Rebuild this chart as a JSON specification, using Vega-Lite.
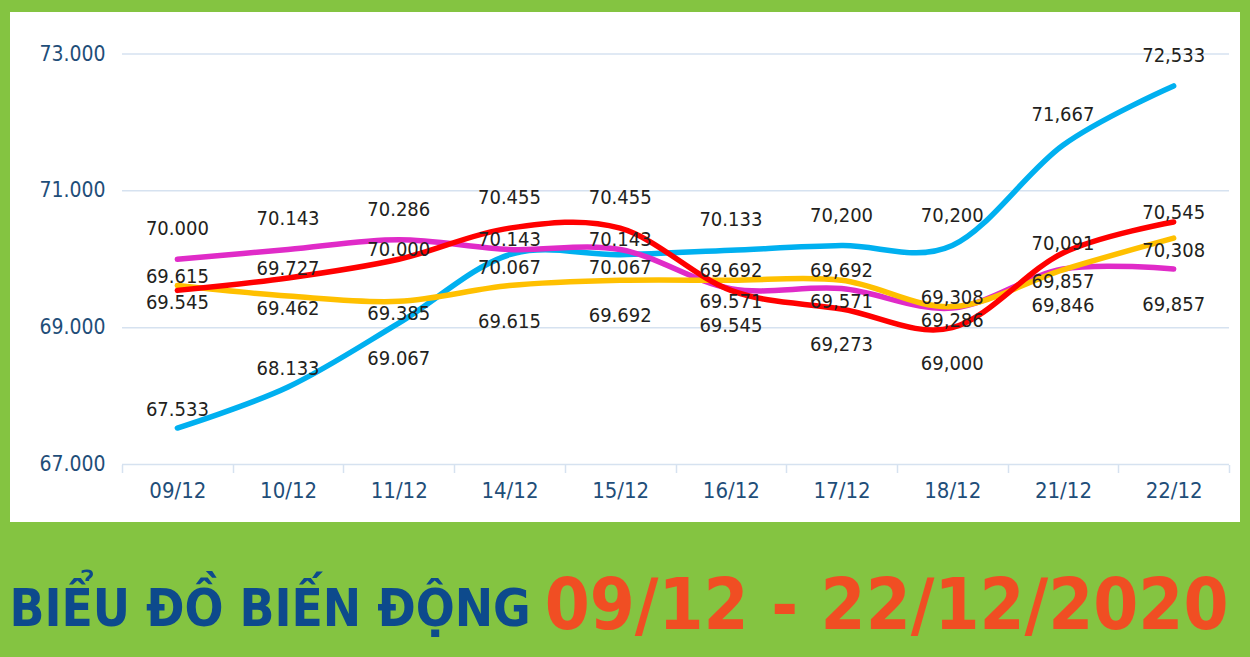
{
  "$schema": "https://vega.github.io/schema/vega-lite/v6.json",
  "width": 1230,
  "height": 510,
  "autosize": {"type": "none"},
  "padding": {"left": 10, "top": 12, "right": 10, "bottom": 135},
  "background": "#84C441",
  "config": {
    "view": {"fill": "white", "stroke": null},
    "font": "DejaVu Sans Condensed, sans-serif"
  },
  "data": {
    "values": [
      {"date": "09/12", "series": "Xanh", "value": 67533},
      {"date": "10/12", "series": "Xanh", "value": 68133},
      {"date": "11/12", "series": "Xanh", "value": 69067},
      {"date": "14/12", "series": "Xanh", "value": 70067},
      {"date": "15/12", "series": "Xanh", "value": 70067},
      {"date": "16/12", "series": "Xanh", "value": 70133},
      {"date": "17/12", "series": "Xanh", "value": 70200},
      {"date": "18/12", "series": "Xanh", "value": 70200},
      {"date": "21/12", "series": "Xanh", "value": 71667},
      {"date": "22/12", "series": "Xanh", "value": 72533},
      {"date": "09/12", "series": "Hồng", "value": 70000},
      {"date": "10/12", "series": "Hồng", "value": 70143},
      {"date": "11/12", "series": "Hồng", "value": 70286},
      {"date": "14/12", "series": "Hồng", "value": 70143},
      {"date": "15/12", "series": "Hồng", "value": 70143},
      {"date": "16/12", "series": "Hồng", "value": 69571},
      {"date": "17/12", "series": "Hồng", "value": 69571},
      {"date": "18/12", "series": "Hồng", "value": 69286},
      {"date": "21/12", "series": "Hồng", "value": 69857},
      {"date": "22/12", "series": "Hồng", "value": 69857},
      {"date": "09/12", "series": "Vàng", "value": 69615},
      {"date": "10/12", "series": "Vàng", "value": 69462},
      {"date": "11/12", "series": "Vàng", "value": 69385},
      {"date": "14/12", "series": "Vàng", "value": 69615},
      {"date": "15/12", "series": "Vàng", "value": 69692},
      {"date": "16/12", "series": "Vàng", "value": 69692},
      {"date": "17/12", "series": "Vàng", "value": 69692},
      {"date": "18/12", "series": "Vàng", "value": 69308},
      {"date": "21/12", "series": "Vàng", "value": 69846},
      {"date": "22/12", "series": "Vàng", "value": 70308},
      {"date": "09/12", "series": "Đỏ", "value": 69545},
      {"date": "10/12", "series": "Đỏ", "value": 69727},
      {"date": "11/12", "series": "Đỏ", "value": 70000},
      {"date": "14/12", "series": "Đỏ", "value": 70455},
      {"date": "15/12", "series": "Đỏ", "value": 70455},
      {"date": "16/12", "series": "Đỏ", "value": 69545},
      {"date": "17/12", "series": "Đỏ", "value": 69273},
      {"date": "18/12", "series": "Đỏ", "value": 69000},
      {"date": "21/12", "series": "Đỏ", "value": 70091},
      {"date": "22/12", "series": "Đỏ", "value": 70545}
    ]
  },
  "layer": [
    {
      "data": {"values": [{"g": 67000}, {"g": 69000}, {"g": 71000}, {"g": 73000}]},
      "mark": {"type": "rule", "color": "#D6E2F0", "strokeWidth": 1.5},
      "encoding": {
        "x": {"datum": "09/12", "type": "ordinal", "bandPosition": 0},
        "x2": {"datum": "22/12", "bandPosition": 1},
        "y": {"field": "g", "type": "quantitative"}
      }
    },
    {
      "mark": {"type": "line", "interpolate": "cardinal", "strokeWidth": 5.5, "strokeCap": "round", "strokeJoin": "round"},
      "encoding": {
        "x": {
          "field": "date",
          "type": "ordinal",
          "sort": ["09/12", "10/12", "11/12", "14/12", "15/12", "16/12", "17/12", "18/12", "21/12", "22/12"],
          "scale": {"type": "band", "paddingInner": 0, "paddingOuter": 0.5556, "align": 0.9106},
          "axis": {
            "orient": "bottom",
            "offset": -57.5,
            "domain": false,
            "grid": false,
            "tickBand": "extent",
            "tickExtra": true,
            "tickColor": "#D6E2F0",
            "tickSize": 8,
            "tickWidth": 1.5,
            "labelAngle": 0,
            "labelAlign": "center",
            "labelFontSize": 22,
            "labelColor": "#1F4E79",
            "labelPadding": 8,
            "labelBaseline": "top",
            "title": "09/12 - 22/12/2020",
            "titleFontSize": 72,
            "titleFontWeight": "bold",
            "titleColor": "#F04E23",
            "titleX": 1218,
            "titleY": 164,
            "titleAlign": "right",
            "titleBaseline": "alphabetic"
          }
        },
        "y": {
          "field": "value",
          "type": "quantitative",
          "scale": {"domain": [66159.6, 73613.9], "nice": false, "zero": false},
          "axis": {
            "orient": "left",
            "offset": -112,
            "domain": false,
            "ticks": false,
            "grid": false,
            "values": [67000, 69000, 71000, 73000],
            "labelExpr": "replace(format(datum.value, ','), ',', '.')",
            "labelFontSize": 21,
            "labelColor": "#1F4E79",
            "labelPadding": 17,
            "title": "BIỂU ĐỒ BIẾN ĐỘNG",
            "titleAngle": 0,
            "titleX": -113,
            "titleY": 613,
            "titleAlign": "left",
            "titleBaseline": "alphabetic",
            "titleFontSize": 51,
            "titleFontWeight": "bold",
            "titleColor": "#0D4A8C"
          }
        },
        "color": {
          "field": "series",
          "type": "nominal",
          "scale": {"domain": ["Xanh", "Hồng", "Vàng", "Đỏ"], "range": ["#00B0F0", "#E02BC8", "#FFC000", "#FF0000"]},
          "legend": null
        }
      }
    },
    {
      "transform": [
        {"window": [{"op": "row_number", "as": "rk"}, {"op": "lag", "field": "value", "as": "prev"}], "groupby": ["date"], "sort": [{"field": "value", "order": "descending"}]},
        {"calculate": "datum.date < '17/12' ? replace(format(datum.value, ','), ',', '.') : format(datum.value, ',')", "as": "label"}
      ],
      "encoding": {
        "x": {"field": "date", "type": "ordinal"},
        "y": {"field": "value", "type": "quantitative"},
        "text": {"field": "label", "type": "nominal"}
      },
      "layer": [
        {"transform": [{"filter": "datum.rk == 1"}], "mark": {"type": "text", "fontSize": 20, "color": "#231F20", "dy": -30}},
        {"transform": [{"filter": "datum.rk == 2"}], "mark": {"type": "text", "fontSize": 20, "color": "#231F20", "dy": -9}},
        {"transform": [{"filter": "datum.rk == 3"}], "mark": {"type": "text", "fontSize": 20, "color": "#231F20", "dy": 13}},
        {"transform": [{"filter": "datum.rk == 4 && datum.prev - datum.value < 1000"}], "mark": {"type": "text", "fontSize": 20, "color": "#231F20", "dy": 36}},
        {"transform": [{"filter": "datum.rk == 4 && datum.prev - datum.value >= 1000"}], "mark": {"type": "text", "fontSize": 20, "color": "#231F20", "dy": -18}}
      ]
    }
  ]
}
